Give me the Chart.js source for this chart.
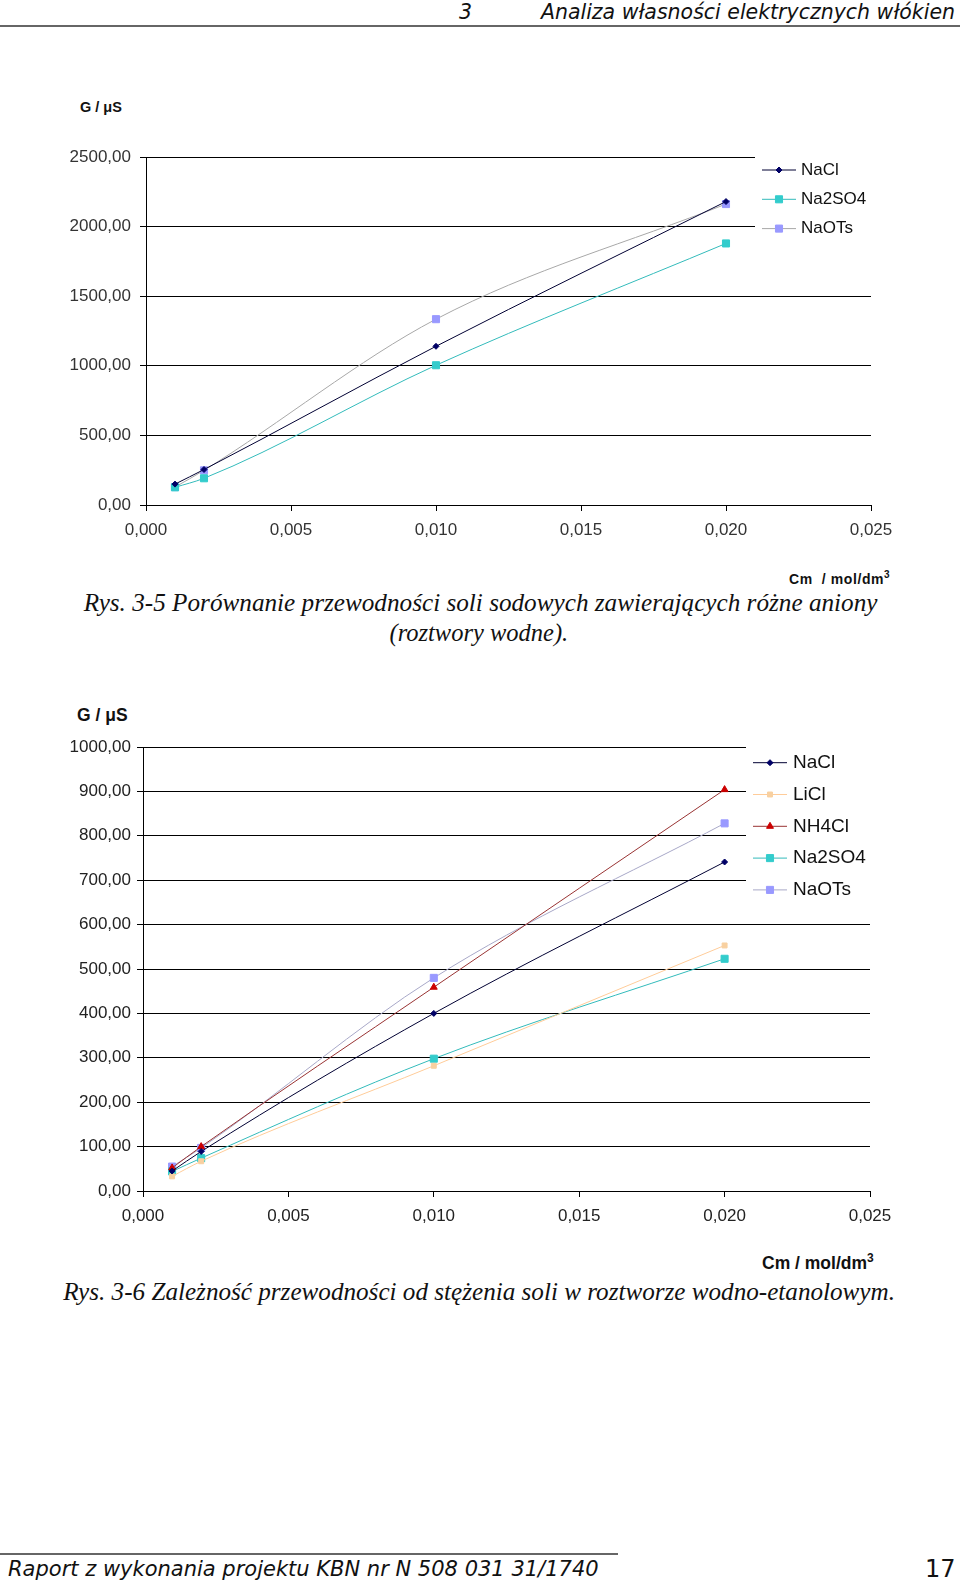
<!DOCTYPE html>
<html>
<head>
<meta charset="utf-8">
<script src="https://cdn.jsdelivr.net/npm/chart.js@4.4.0/dist/chart.umd.min.js"></script>
<style>
  body { margin: 0; background: #fff; }
  #page { position: relative; width: 960px; height: 1585px; overflow: hidden; background: #fff; }
  .abs { position: absolute; white-space: nowrap; }
  .hdr { font-family: "DejaVu Sans", sans-serif; font-style: italic; font-size: 20.5px; color: #111; line-height: 24px; }
  .axt { font-family: "Liberation Sans", Arial, sans-serif; font-weight: bold; color: #111; line-height: 18px; }
  .cap { font-family: "Liberation Serif", "Times New Roman", serif; font-style: italic; font-size: 26px; color: #111; line-height: 28px; transform-origin: center center; }
  .box { position: absolute; }
</style>
</head>
<body>
<div id="page">
  <div class="abs hdr" style="left:459px; top:0px;">3</div>
  <div class="abs hdr" style="right:5px; top:0px;">Analiza własności elektrycznych włókien</div>
  <div class="abs" style="left:0; top:25px; width:960px; height:2px; background:#666;"></div>

  <div class="abs axt" style="left:80px; top:98px; font-size:14.5px;">G / μS</div>
  <div class="box" style="left:0; top:90px; width:960px; height:460px;"><canvas id="chart1"></canvas></div>
  <div class="abs axt" style="left:789px; top:566px; font-size:14px; letter-spacing:0.6px;">Cm&nbsp; / mol/dm<sup style="font-size:10px">3</sup></div>

  <div class="abs cap fit" data-w="794" style="left:480px; top:589px;">Rys. 3-5 Porównanie przewodności soli sodowych zawierających różne aniony</div>
  <div class="abs cap fit" data-w="179" style="left:479px; top:619px;">(roztwory wodne).</div>

  <div class="abs axt" style="left:77px; top:706px; font-size:17.5px;">G / μS</div>
  <div class="box" style="left:0; top:700px; width:960px; height:540px;"><canvas id="chart2"></canvas></div>
  <div class="abs axt" style="left:762px; top:1249px; font-size:17.5px;">Cm / mol/dm<sup style="font-size:12px">3</sup></div>

  <div class="abs cap fit" data-w="832" style="left:479px; top:1278px;">Rys. 3-6 Zależność przewodności od stężenia soli w roztworze wodno-etanolowym.</div>

  <div class="abs" style="left:0; top:1553px; width:618px; height:2px; background:#666;"></div>
  <div class="abs hdr" style="left:8px; top:1557px; font-size:21px;">Raport z wykonania projektu KBN nr N 508 031 31/1740</div>
  <div class="abs" style="left:925px; top:1555px; font-family:'DejaVu Sans',sans-serif; font-size:24px; color:#111; line-height:28px;">17</div>
</div>

<script>
// stężenie (mol/dm3) - wspólne dla wszystkich serii
var conc = [0.001, 0.002, 0.010, 0.020];

// Rys. 3-5, roztwory wodne (G / uS)
var naclWater = [150, 255, 1140, 2180];
var na2so4Water = [127, 192, 1004, 1879];
var naotsWater = [129, 249, 1335, 2162];

// Rys. 3-6, roztwory wodno-etanolowe (G / uS)
var naclEth = [45, 89, 400, 741];
var liclEth = [33, 67, 282, 553];
var nh4clEth = [52, 100, 459, 904];
var na2so4Eth = [44, 74, 298, 523];
var naotsEth = [55, 97, 480, 828];

var xTicks = [0, 0.005, 0.010, 0.015, 0.020, 0.025];
var yTicksWater = [0, 500, 1000, 1500, 2000, 2500];
var yTicksEth = [0, 100, 200, 300, 400, 500, 600, 700, 800, 900, 1000];

function points(values) {
    return conc.map(function (c, i) { return { x: c, y: values[i] }; });
}

function serie(label, values, line, fill, style, radius) {
    return {
        label: label,
        data: points(values),
        borderColor: line,
        borderWidth: 1,
        pointStyle: style,
        pointRadius: radius,
        pointBackgroundColor: fill,
        pointBorderColor: fill,
        pointBorderWidth: 1,
        cubicInterpolationMode: 'monotone',
        fill: false
    };
}

// legenda w ramce na polu wykresu (przykrywa linie siatki jak w Excelu)
var boxLegend = {
    id: 'boxLegend',
    afterDatasetsDraw: function (chart, args, opts) {
        var ctx = chart.ctx;
        ctx.save();
        ctx.fillStyle = '#fff';
        ctx.fillRect(opts.boxX, opts.boxY, chart.width - opts.boxX, opts.boxH);
        chart.data.datasets.forEach(function (ds, i) {
            var y = opts.rowY + i * opts.rowStep;
            ctx.strokeStyle = ds.borderColor;
            ctx.lineWidth = 1;
            ctx.beginPath();
            ctx.moveTo(opts.lineX, y);
            ctx.lineTo(opts.lineX + opts.lineLen, y);
            ctx.stroke();
            ctx.fillStyle = ds.pointBackgroundColor;
            ctx.strokeStyle = ds.pointBorderColor;
            Chart.helpers.drawPoint(ctx, { pointStyle: ds.pointStyle, radius: ds.pointRadius, borderWidth: 1, rotation: 0 },
                opts.lineX + opts.lineLen / 2, y);
            ctx.fillStyle = '#111';
            ctx.font = opts.font;
            ctx.textAlign = 'left';
            ctx.textBaseline = 'middle';
            ctx.fillText(ds.label, opts.textX, y);
        });
        ctx.restore();
    }
};

function makeChart(id, datasets, yMax, yStep, cfg) {
    var ctx = document.getElementById(id).getContext('2d');
    return new Chart(ctx, {
        type: 'line',
        data: { datasets: datasets },
        plugins: [boxLegend],
        options: {
            responsive: true,
            maintainAspectRatio: false,
            animation: false,
            layout: { padding: { top: cfg.padTop, right: cfg.padRight, left: 0, bottom: 0 } },
            plugins: {
                legend: { display: false },
                tooltip: { enabled: false },
                boxLegend: cfg.legend
            },
            scales: {
                x: {
                    type: 'linear',
                    min: xTicks[0],
                    max: xTicks[xTicks.length - 1],
                    afterBuildTicks: function (scale) {
                        scale.ticks = xTicks.map(function (v) { return { value: v }; });
                    },
                    ticks: {
                        color: cfg.tickColor,
                        font: { family: 'Liberation Sans', size: 17 },
                        padding: cfg.xPad,
                        maxRotation: 0,
                        callback: function (v) { return v.toFixed(3).replace('.', ','); }
                    },
                    grid: { drawOnChartArea: false, drawTicks: true, tickLength: 6, color: '#000' },
                    border: { color: '#000', width: 1 },
                    afterFit: function (scale) { scale.height = cfg.xHeight; }
                },
                y: {
                    min: 0,
                    max: yMax,
                    afterBuildTicks: function (scale) {
                        scale.ticks = cfg.yTicks.map(function (v) { return { value: v }; });
                    },
                    ticks: {
                        color: cfg.tickColor,
                        font: { family: 'Liberation Sans', size: 17 },
                        padding: cfg.yPad,
                        callback: function (v) { return v.toFixed(2).replace('.', ','); }
                    },
                    grid: { color: '#000', lineWidth: 1, drawTicks: true, tickLength: 6 },
                    border: { color: '#000', width: 1 },
                    afterFit: function (scale) { scale.width = cfg.yWidth; }
                }
            }
        }
    });
}

makeChart('chart1', [
    serie('NaCl', naclWater, '#000033', '#000066', 'rectRot', 3),
    serie('Na2SO4', na2so4Water, '#33BBBB', '#33CCCC', 'rect', 5),
    serie('NaOTs', naotsWater, '#A8A8A8', '#9999FF', 'rect', 5)
], 2500, 500, {
    padTop: 67, padRight: 89, xHeight: 45, yWidth: 146, xPad: 9, yPad: 9,
    tickColor: '#333', yTicks: yTicksWater,
    legend: { boxX: 755, boxY: 55, boxH: 105, rowY: 80, rowStep: 29.3, lineX: 762, lineLen: 34, textX: 801,
              font: '17px "Liberation Sans"' }
});

makeChart('chart2', [
    serie('NaCl', naclEth, '#000033', '#000066', 'rectRot', 3),
    serie('LiCl', liclEth, '#FFCC99', '#F8D0A0', 'rect', 3.5),
    serie('NH4Cl', nh4clEth, '#993333', '#CC0000', 'triangle', 4),
    serie('Na2SO4', na2so4Eth, '#33BBBB', '#33CCCC', 'rect', 5),
    serie('NaOTs', naotsEth, '#A8A8C8', '#9999FF', 'rect', 5)
], 1000, 100, {
    padTop: 47, padRight: 90, xHeight: 49, yWidth: 143, xPad: 9, yPad: 6,
    tickColor: '#222', yTicks: yTicksEth,
    legend: { boxX: 746, boxY: 35, boxH: 172, rowY: 62.7, rowStep: 31.8, lineX: 753, lineLen: 34, textX: 793,
              font: '19px "Liberation Sans"' }
});

// podpisy: szerokość jak w oryginale (kondensowany Times)
document.querySelectorAll('.fit').forEach(function (el) {
    var target = parseFloat(el.getAttribute('data-w'));
    var w = el.offsetWidth;
    el.style.marginLeft = (-w / 2) + 'px';
    el.style.transform = 'scaleX(' + (target / w).toFixed(3) + ')';
});
</script>
</body>
</html>
